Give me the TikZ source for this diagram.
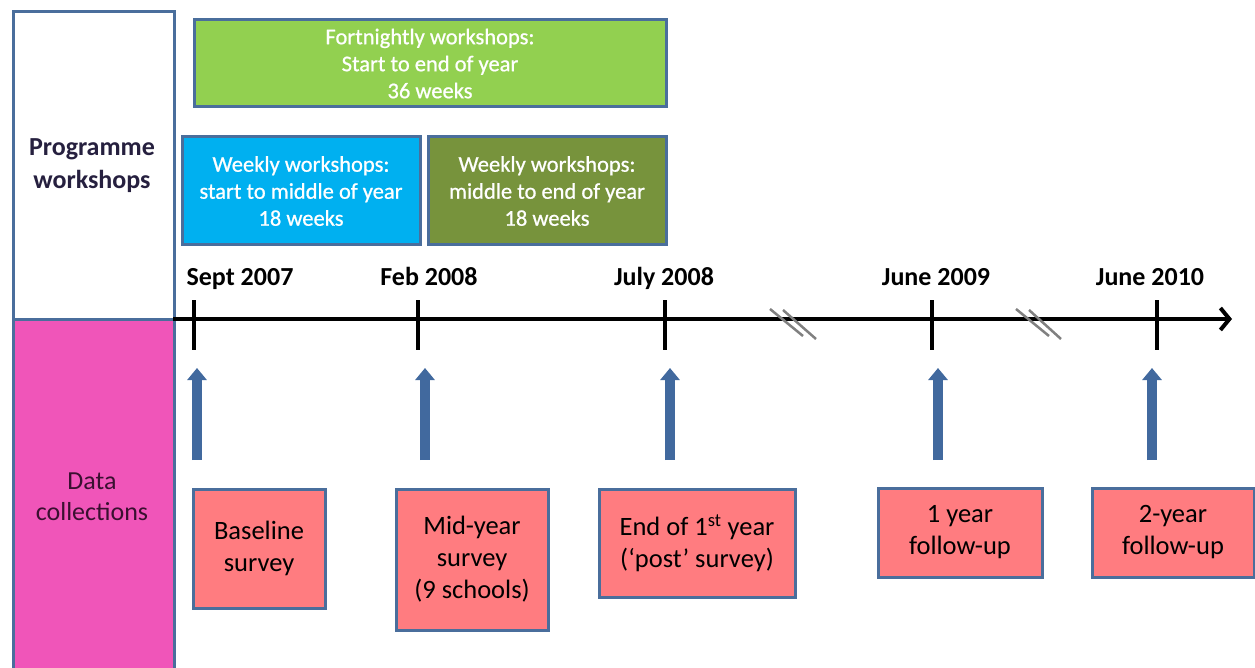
\documentclass[tikz,border=0pt]{standalone}
\usepackage{fontspec}
\setmainfont{Carlito}
\newfontfamily\semibfont[FakeBold=0.8]{Carlito}
\usetikzlibrary{arrows.meta}
\definecolor{frameblue}{HTML}{4A6E9C}
\definecolor{pinkfill}{HTML}{F055B9}
\definecolor{greenfill}{HTML}{92D050}
\definecolor{bluefill}{HTML}{00B0F0}
\definecolor{olivefill}{HTML}{77933C}
\definecolor{salmon}{HTML}{FF7C80}
\definecolor{arrowblue}{HTML}{41699E}
\definecolor{navytext}{HTML}{26203F}
\definecolor{purpletext}{HTML}{3A1030}
\definecolor{breakgrey}{HTML}{808080}
\tikzset{
  sidebox/.style={draw=frameblue, line width=3pt, anchor=north west, inner sep=0pt},
  wbox/.style={draw=frameblue, line width=3pt, text=white, align=center,
    font=\semibfont\fontsize{22.5}{27}\selectfont, inner sep=0pt},
  dbox/.style={draw=frameblue, line width=3pt, fill=salmon, text=black, align=center,
    font=\fontsize{26.5}{32}\selectfont, inner sep=0pt},
  datelbl/.style={font=\fontsize{26}{30}\selectfont\bfseries, text=black, anchor=base},
  tick/.style={line width=4pt, black},
  upar/.style={line width=10pt, arrowblue, -{Triangle[width=19pt,length=12pt]}},
  brk/.style={line width=2.5pt, breakgrey}
}
\begin{document}
\begin{tikzpicture}[x=1pt,y=-1pt]
\useasboundingbox (0,0) rectangle (1255,668);

% side boxes
\node[sidebox, fill=white, minimum width=161pt, minimum height=308pt] (prog) at (12,10) {};
\node[sidebox, fill=pinkfill, minimum width=161pt, minimum height=370pt] (data) at (12,318) {};
\node[align=center, text=navytext, font=\fontsize{26}{33}\selectfont\bfseries] (progtxt) at (92,166) {Programme\\workshops};
\node[align=center, text=purpletext, font=\fontsize{26}{31}\selectfont] (datatxt) at (92,497) {Data\\collections};

% workshop boxes
\node[wbox, fill=greenfill, minimum width=472pt, minimum height=87pt] (fort) at (430,63.5)
  {Fortnightly workshops:\\Start to end of year\\36 weeks};
\node[wbox, fill=bluefill, minimum width=238pt, minimum height=108pt] (wk1) at (301,191)
  {Weekly workshops:\\start to middle of year\\18 weeks};
\node[wbox, fill=olivefill, minimum width=238pt, minimum height=108pt] (wk2) at (547,191)
  {Weekly workshops:\\middle to end of year\\18 weeks};

% timeline
\coordinate (tlstart) at (173,319);
\coordinate (tlend) at (1232,319);
\draw[line width=4pt, black, -{Straight Barb[length=9pt,width=22pt]}] (tlstart) -- (tlend);

\foreach \n/\x in {1/194, 2/418, 3/665, 4/932, 5/1157} {
  \coordinate (tt\n) at (\x,300);
  \coordinate (tb\n) at (\x,350);
  \draw[tick] (tt\n) -- (tb\n);
}

% break marks
\draw[brk] (770,309) -- (803,336);
\draw[brk] (783,310) -- (816,339);
\draw[brk] (1016,309) -- (1049,336);
\draw[brk] (1029,310) -- (1061,339);

% date labels
\node[datelbl] (d1) at (240,286) {Sept 2007};
\node[datelbl] (d2) at (429,286) {Feb 2008};
\node[datelbl] (d3) at (664,286) {July 2008};
\node[datelbl] (d4) at (936,286) {June 2009};
\node[datelbl] (d5) at (1150,286) {June 2010};

% up arrows
\foreach \n/\x in {1/197, 2/425, 3/670, 4/938, 5/1152} {
  \coordinate (as\n) at (\x,460);
  \coordinate (ae\n) at (\x,368);
  \draw[upar] (as\n) -- (ae\n);
}

% data collection boxes
\node[dbox, minimum width=132pt, minimum height=119pt] (base) at (259,548.5)
  {Baseline\\survey};
\node[dbox, minimum width=152pt, minimum height=141pt] (mid) at (472,559.5)
  {Mid-year\\survey\\(9 schools)};
\node[dbox, minimum width=196pt, minimum height=108pt] (end) at (697,543)
  {End of 1\textsuperscript{st} year\\(‘post’ survey)};
\node[dbox, minimum width=164pt, minimum height=89pt] (fu1) at (960,532.5)
  {1 year\\follow-up};
\node[dbox, minimum width=162pt, minimum height=89pt] (fu2) at (1173,532.5)
  {2-year\\follow-up};
\end{tikzpicture}
\end{document}
